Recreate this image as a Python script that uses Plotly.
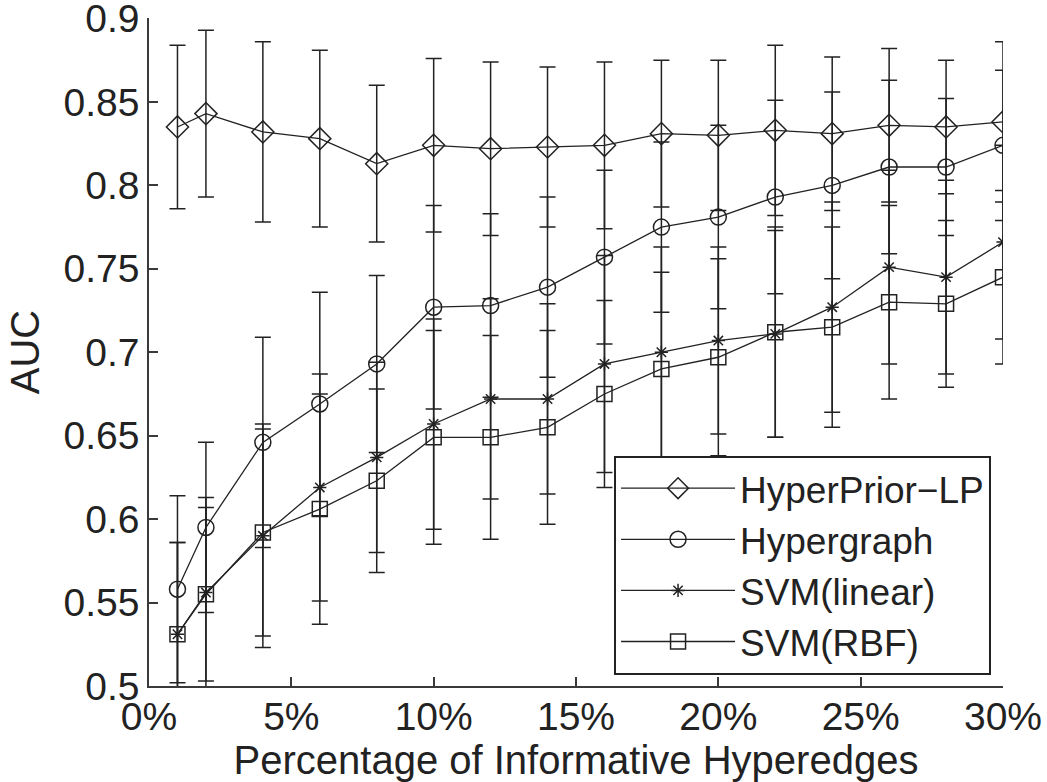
import plotly.graph_objects as go

x_pct = [1, 2, 4, 6, 8, 10, 12, 14, 16, 18, 20, 22, 24, 26, 28, 30]

hp_auc = [0.835, 0.843, 0.832, 0.828, 0.813, 0.824, 0.822, 0.823, 0.824, 0.831, 0.830, 0.833, 0.831, 0.836, 0.835, 0.838]
hp_err = [0.049, 0.050, 0.054, 0.053, 0.047, 0.052, 0.052, 0.048, 0.050, 0.044, 0.045, 0.051, 0.046, 0.046, 0.040, 0.048]

hg_auc = [0.558, 0.595, 0.646, 0.669, 0.693, 0.727, 0.728, 0.739, 0.757, 0.775, 0.781, 0.793, 0.800, 0.811, 0.811, 0.824]
hg_err = [0.056, 0.051, 0.063, 0.067, 0.053, 0.061, 0.055, 0.054, 0.052, 0.051, 0.055, 0.058, 0.056, 0.052, 0.041, 0.045]

lin_auc = [0.531, 0.556, 0.590, 0.619, 0.637, 0.657, 0.672, 0.672, 0.693, 0.700, 0.707, 0.711, 0.727, 0.751, 0.745, 0.766]
lin_err = [0.055, 0.057, 0.067, 0.068, 0.057, 0.063, 0.060, 0.057, 0.065, 0.063, 0.056, 0.062, 0.063, 0.058, 0.058, 0.058]

rbf_auc = [0.531, 0.555, 0.592, 0.606, 0.623, 0.649, 0.649, 0.655, 0.675, 0.690, 0.697, 0.712, 0.715, 0.730, 0.729, 0.745]
rbf_err = [0.055, 0.052, 0.062, 0.069, 0.055, 0.064, 0.061, 0.058, 0.056, 0.058, 0.059, 0.063, 0.060, 0.058, 0.050, 0.052]

series_names = ["HyperPrior−LP", "Hypergraph", "SVM(linear)", "SVM(RBF)"]
x_ticks = [0, 5, 10, 15, 20, 25, 30]
x_tick_labels = ["0%", "5%", "10%", "15%", "20%", "25%", "30%"]
y_ticks = [0.5, 0.55, 0.6, 0.65, 0.7, 0.75, 0.8, 0.85, 0.9]
y_tick_labels = ["0.5", "0.55", "0.6", "0.65", "0.7", "0.75", "0.8", "0.85", "0.9"]

INK = "#222222"
AXIS = "#3a3a3a"
FONT = "Liberation Sans, Arial, Helvetica, sans-serif"

styles = [
    ("diamond-open", 17),
    ("circle-open", 16),
    ("asterisk-open", 11),
    ("square-open", 15),
]
data = [(hp_auc, hp_err), (hg_auc, hg_err), (lin_auc, lin_err), (rbf_auc, rbf_err)]

fig = go.Figure()
for name, (vals, errs), (sym, size) in zip(series_names, data, styles):
    fig.add_trace(go.Scatter(
        x=x_pct, y=vals, name=name, mode="lines+markers",
        line=dict(color=INK, width=1.3),
        marker=dict(symbol=sym, size=size, color=INK,
                    line=dict(color=INK, width=1.5)),
        error_y=dict(type="data", array=errs, visible=True,
                     color=INK, thickness=1.5, width=8),
        cliponaxis=True,
    ))

fig.update_layout(
    width=1047, height=782,
    margin=dict(l=149, r=44, t=18, b=96, autoexpand=False),
    paper_bgcolor="white", plot_bgcolor="white",
    font=dict(family=FONT, size=39, color=INK),
    showlegend=True,
    legend=dict(
        x=0.986, y=0.017, xanchor="right", yanchor="bottom",
        bordercolor=INK, borderwidth=2, bgcolor="white",
        font=dict(family=FONT, size=37, color=INK),
        itemwidth=114, tracegroupgap=0,
    ),
)

fig.update_xaxes(
    range=[0, 30], tickmode="array", tickvals=x_ticks, ticktext=x_tick_labels,
    showline=True, linecolor=AXIS, linewidth=1.5, mirror=False,
    ticks="inside", ticklen=9, tickwidth=1.5, tickcolor=AXIS,
    showgrid=False, zeroline=False, ticklabeloverflow="allow", automargin=False,
    ticklabelstandoff=-5,
    title=dict(text="Percentage of Informative Hyperedges", standoff=4,
               font=dict(family=FONT, size=40, color=INK)),
    tickfont=dict(family=FONT, size=39, color=INK),
)
fig.update_yaxes(
    range=[0.5, 0.9003], tickmode="array", tickvals=y_ticks, ticktext=y_tick_labels,
    showline=True, linecolor=AXIS, linewidth=1.5, mirror=False,
    ticks="inside", ticklen=9, tickwidth=1.5, tickcolor=AXIS,
    showgrid=False, zeroline=False, ticklabeloverflow="allow", automargin=False,
    title=dict(text="AUC", standoff=12,
               font=dict(family=FONT, size=40, color=INK)),
    tickfont=dict(family=FONT, size=39, color=INK),
)

fig.write_html("out.html")
